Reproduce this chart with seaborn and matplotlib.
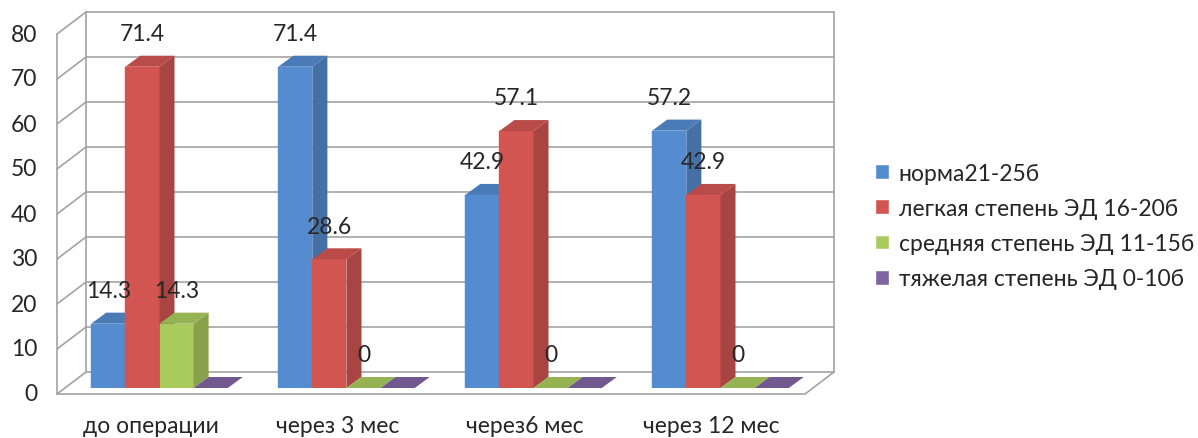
import numpy as np
import pandas as pd
import matplotlib
matplotlib.use('Agg')
import matplotlib.pyplot as plt
import matplotlib.colors as mcolors
from matplotlib.patches import Polygon
import seaborn as sns

# данные
periods = ['до операции', 'через 3 мес', 'через6 мес', 'через 12 мес']
groups = ['норма21-25б', 'легкая степень ЭД 16-20б',
          'средняя степень ЭД 11-15б', 'тяжелая степень ЭД 0-10б']
norma = [14.3, 71.4, 42.9, 57.2]
legkaya = [71.4, 28.6, 57.1, 42.9]
srednyaya = [14.3, 0, 0, 0]
tyazhelaya = [0, 0, 0, 0]
y_ticks = [0, 10, 20, 30, 40, 50, 60, 70, 80]

colors = ['#558CCF', '#D25552', '#A9CB5E', '#8064A2']

df = pd.DataFrame({
    'period': periods * 4,
    'group': [g for g in groups for _ in periods],
    'value': norma + legkaya + srednyaya + tyazhelaya,
})

sns.set_style('white')
plt.rcParams['font.family'] = ['Lato', 'Noto Sans', 'DejaVu Sans']
fs = 16.5

W, H = 1198, 439
fig = plt.figure(figsize=(W / 100, H / 100), dpi=100)
ax = fig.add_axes([66 / W, 50 / H, 748 / W, 360 / H])

sns.barplot(data=df, x='period', y='value', hue='group', palette=colors,
            saturation=1, width=0.73, ax=ax, legend=False)
ax.set_xlim(-0.5, 3.5)
ax.set_ylim(0, 80)
ax.axis('off')

# перевод пикселей в единицы данных
ux = 748 / 4
uy = 360 / 80
bx, by = 20 / ux, 16 / uy      # задняя стенка
fx, fy = -9 / ux, -6 / uy      # передний край
ddx, ddy = 15 / ux, 11 / uy    # глубина столбика

grid_c = '#A3A3A3'
lw = 1.2
x0, x1 = ax.get_xlim()
for k in y_ticks:
    ax.plot([x0 + bx, x1 + bx], [k + by, k + by], color=grid_c, lw=lw, clip_on=False, zorder=1)
    ax.plot([x0 + fx, x0 + bx], [k + fy, k + by], color=grid_c, lw=lw, clip_on=False, zorder=1)
    ax.text(x0 + fx - 20 / ux, k + fy, str(k), ha='right', va='center', fontsize=fs)
ax.plot([x0 + bx, x0 + bx], [by, 80 + by], color=grid_c, lw=lw, clip_on=False, zorder=1)
ax.plot([x1 + bx, x1 + bx], [by, 80 + by], color=grid_c, lw=lw, clip_on=False, zorder=1)
ax.plot([x0 + fx, x0 + fx], [fy, 80 + fy], color=grid_c, lw=lw, clip_on=False, zorder=1)
ax.plot([x0 + fx, x1 + fx, x1 + bx], [fy, fy, by], color=grid_c, lw=lw, clip_on=False, zorder=1)

for i, p in enumerate(periods):
    ax.text(i + fx, fy - 32 / uy, p, ha='center', va='center', fontsize=fs)


def shade(c, f):
    r, g, b = mcolors.to_rgb(c)
    return (r * f, g * f, b * f)


# объёмные грани столбиков
for j, cont in enumerate(ax.containers):
    for bar in cont:
        xl = bar.get_x()
        xr = xl + bar.get_width()
        h = bar.get_height()
        bar.set_zorder(3 + j)
        bar.set_edgecolor(colors[j])
        bar.set_linewidth(0.3)
        side = Polygon([(xr, 0), (xr + ddx, ddy), (xr + ddx, h + ddy), (xr, h)],
                       closed=True, fc=shade(colors[j], 0.8), ec='none', zorder=3 + j, clip_on=False)
        top = Polygon([(xl, h), (xl + ddx, h + ddy), (xr + ddx, h + ddy), (xr, h)],
                      closed=True, fc=shade(colors[j], 0.88), ec='none', zorder=3 + j, clip_on=False)
        ax.add_patch(side)
        ax.add_patch(top)
        if j < 3:
            ax.annotate(f'{h:g}', (xl + bar.get_width() / 2, h), xytext=(0, 23.8),
                        textcoords='offset points', ha='center', va='center',
                        fontsize=fs, zorder=10, annotation_clip=False)

handles = [plt.Rectangle((0, 0), 1, 1, fc=c) for c in colors]
fig.legend(handles, groups, loc='center left', bbox_to_anchor=(866 / W, 1 - 227 / H),
           frameon=False, fontsize=fs, handlelength=0.62, handleheight=0.62,
           handletextpad=0.4, labelspacing=0.62, borderaxespad=0)

fig.savefig('out.png', dpi=100)
